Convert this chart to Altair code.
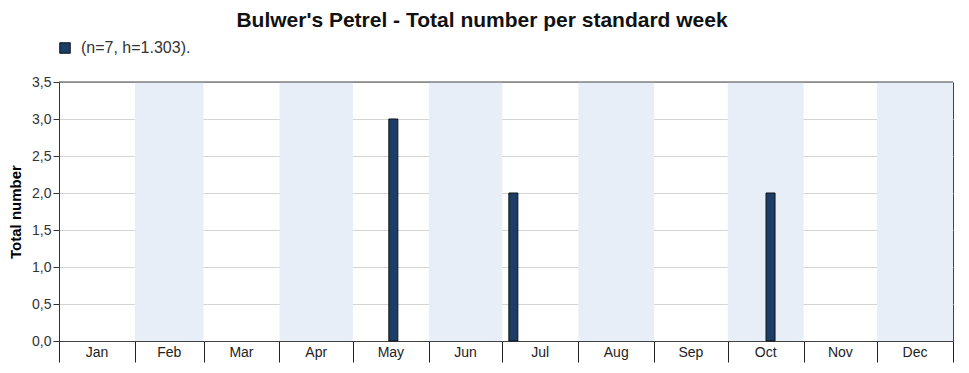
import altair as alt
import pandas as pd

months = ["Jan", "Feb", "Mar", "Apr", "May", "Jun", "Jul", "Aug", "Sep", "Oct", "Nov", "Dec"]
month_days = [31, 28, 31, 30, 31, 30, 31, 31, 30, 31, 30, 31]
weeks = [20, 27, 42]
counts = [3, 2, 2]
series_label = "(n=7, h=1.303)."
y_ticks = [0, 0.5, 1.0, 1.5, 2.0, 2.5, 3.0, 3.5]
y_max = 3.5

W, H = 894, 259
FONT = "Liberation Sans"

starts = []
acc = 0
for d in month_days:
    starts.append(acc)
    acc += d
ends = [s + d for s, d in zip(starts, month_days)]
boundaries = starts + [ends[-1]]

months_df = pd.DataFrame({
    "month": months,
    "start": starts,
    "end": ends,
    "mid": [(s + e) / 2 for s, e in zip(starts, ends)],
    "shade": [i % 2 == 1 for i in range(12)],
})
bars_df = pd.DataFrame({
    "day": [(w - 0.5) * 7 for w in weeks],
    "count": counts,
    "series": [series_label] * len(weeks),
})

xscale = alt.Scale(domain=[0, 365], nice=False, zero=False, padding=0)
yscale = alt.Scale(domain=[0, y_max], nice=False, padding=0)

yaxis = alt.Axis(values=y_ticks, tickCount=8, title="Total number", grid=True,
                 gridColor="#d4d4d4", domainColor="#333", tickColor="#333",
                 tickSize=6, labelFontSize=14, labelColor="#333",
                 labelOverlap=False, labelFlush=False,
                 labelExpr="replace(format(datum.value, '.1f'), '.', ',')",
                 titleFontSize=15, titleFont=FONT, titleFontWeight="bold",
                 titlePadding=8, labelFont=FONT, labelPadding=2)

bands = alt.Chart(months_df).transform_filter("datum.shade").mark_rect(
    color="#e8eef8"
).encode(
    x=alt.X("start:Q", scale=xscale,
            axis=alt.Axis(values=boundaries, labels=False, tickSize=21, grid=False,
                          domainColor="#444", tickColor="#222", title=None)),
    x2="end:Q",
    y=alt.value(0),
    y2=alt.value(H),
)

bars = alt.Chart(bars_df).mark_bar(size=9, stroke="#111", strokeWidth=1).encode(
    x=alt.X("day:Q", scale=xscale),
    y=alt.Y("count:Q", scale=yscale, axis=yaxis),
    color=alt.Color("series:N",
                    scale=alt.Scale(range=["#1c3d66"]),
                    legend=alt.Legend(orient="none", legendX=-2, legendY=-42,
                                      title=None, symbolType="square", symbolSize=110,
                                      symbolStrokeColor="#111", symbolStrokeWidth=1,
                                      labelOffset=8,
                                      labelFontSize=16, labelFont=FONT, labelColor="#333")),
)

top_rule = alt.Chart(pd.DataFrame({"y": [y_max]})).mark_rule(color="#444", strokeWidth=1).encode(
    y=alt.Y("y:Q", scale=yscale, axis=yaxis)
)

labels = alt.Chart(months_df).mark_text(
    fontSize=14, font=FONT, color="#222", baseline="middle"
).encode(
    x=alt.X("mid:Q", scale=xscale),
    y=alt.value(H + 12),
    text="month:N",
)

chart = alt.layer(bands, bars, top_rule, labels).properties(
    width=W, height=H,
    title=alt.TitleParams("Bulwer's Petrel - Total number per standard week",
                          font=FONT, fontSize=21, fontWeight="bold", color="#111",
                          anchor="middle", frame="group", dx=-24, offset=9),
    autosize=alt.AutoSizeParams(type="none"),
    padding={"left": 51, "top": 74, "right": 8, "bottom": 25},
).configure_view(stroke="#444", strokeWidth=1).configure_axis(labelFont=FONT)

chart.save("out.html", embed_options={"renderer": "svg", "actions": False})
